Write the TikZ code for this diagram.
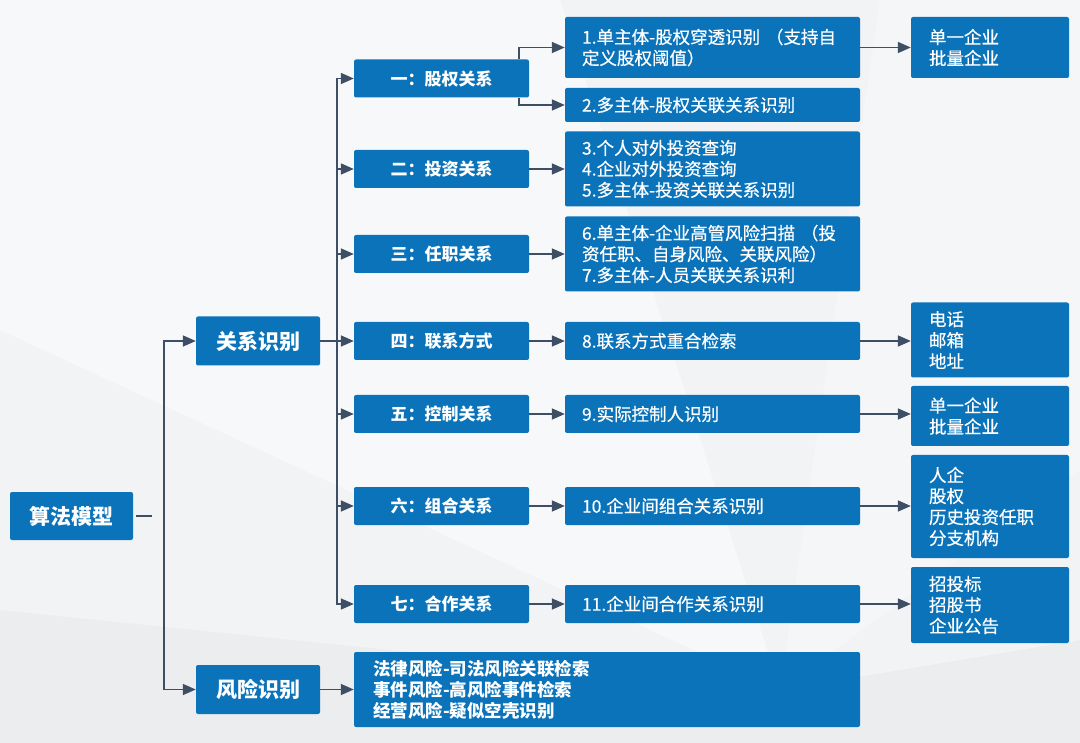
\documentclass[tikz,border=0pt]{standalone}
\usepackage{fontspec}
\setmainfont{Noto Sans CJK SC}
\newfontfamily\medfont{Noto Sans CJK SC}[FakeBold=0.5]
\usetikzlibrary{arrows.meta}

\definecolor{boxblue}{RGB}{11,115,186}
\definecolor{linkgray}{RGB}{62,78,101}
\definecolor{bggray}{RGB}{242,243,245}

\tikzset{
  bluebox/.style={fill=boxblue,text=white,rounded corners=2pt,inner sep=0pt},
  headbox/.style={bluebox,minimum width=124pt,minimum height=49pt,
    font=\fontsize{21}{24}\selectfont\bfseries},
  catbox/.style={bluebox,minimum width=175pt,minimum height=38pt,
    font=\fontsize{17}{20}\selectfont\bfseries},
  itembox/.style={bluebox,text width=261pt,inner xsep=17pt,align=left,
    font=\fontsize{17.5}{21}\selectfont\medfont},
  leafbox/.style={bluebox,text width=122pt,inner xsep=18pt,align=left,
    font=\fontsize{17.5}{21}\selectfont\medfont},
  plainlink/.style={draw=linkgray,line width=1.6pt},
  flow/.style={plainlink,-{Triangle[length=13pt,width=11pt]}}
}

\begin{document}
\begin{tikzpicture}[x=1pt,y=-1pt]
\useasboundingbox (0,0) rectangle (1080,743);
% Background
\fill[bggray] (0,0) rectangle (1080,743);
\fill[white,opacity=0.45] (0,0) -- (560,0) -- (780,690) -- (0,330) -- cycle;
\fill[white,opacity=0.3] (780,690) -- (1080,470) -- (1080,0) -- (880,0) -- cycle;
\fill[black,opacity=0.025] (0,610) -- (780,690) -- (1080,640) -- (1080,743) -- (0,743) -- cycle;

% Root and first level
\node[headbox,minimum width=123pt,minimum height=48pt] (algo) at (71.5,516) {算法模型};
\node[headbox] (relid) at (258,341) {关系识别};
\node[headbox] (riskid) at (258,689.5) {风险识别};
\coordinate (split) at (164,516);
\draw[plainlink] ([xshift=3pt]algo.east) -- ++(16,0);
\draw[flow] (split) |- (relid.west);
\draw[flow] (split) |- (riskid.west);

% Relation categories
\coordinate (hub) at (337,341);
\draw[plainlink] (relid.east) -- (hub);
\foreach \n/\y/\t in {cat1/78.5/一：股权关系, cat2/169/二：投资关系, cat3/254/三：任职关系,
    cat4/341/四：联系方式, cat5/414/五：控制关系, cat6/506/六：组合关系, cat7/604/七：合作关系} {
    \node[catbox] (\n) at (441.5,\y) {\t};
    \draw[flow] (hub) |- (\n.west);
}

% Items
\node[itembox,minimum height=61pt] (item1) at (712.5,47.5) {1.单主体-股权穿透识别 （支持自\\定义股权阈值）};
\node[itembox,minimum height=34pt] (item2) at (712.5,105) {2.多主体-股权关联关系识别};
\node[itembox,minimum height=75pt] (item3) at (712.5,169) {3.个人对外投资查询\\4.企业对外投资查询\\5.多主体-投资关联关系识别};
\node[itembox,minimum height=75pt] (item4) at (712.5,254) {6.单主体-企业高管风险扫描 （投\\资任职、自身风险、关联风险）\\7.多主体-人员关联关系识利};
\node[itembox,minimum height=38pt] (item5) at (712.5,341) {8.联系方式重合检索};
\node[itembox,minimum height=38pt] (item6) at (712.5,414) {9.实际控制人识别};
\node[itembox,minimum height=38pt] (item7) at (712.5,506) {10.企业间组合关系识别};
\node[itembox,minimum height=38pt] (item8) at (712.5,604) {11.企业间合作关系识别};

\draw[flow] ([xshift=-10pt]cat1.north east) |- (item1.west);
\draw[flow] ([xshift=-10pt]cat1.south east) |- (item2.west);
\foreach \a/\b in {cat2/item3, cat3/item4, cat4/item5, cat5/item6, cat6/item7, cat7/item8}
    \draw[flow] (\a.east) -- (\a.east -| \b.west);

% Leaves
\node[leafbox,minimum height=61pt] (leaf1) at (990,47.5) {单一企业\\批量企业};
\node[leafbox,minimum height=75pt] (leaf2) at (990,340) {电话\\邮箱\\地址};
\node[leafbox,minimum height=60pt] (leaf3) at (990,416) {单一企业\\批量企业};
\node[leafbox,minimum height=103pt] (leaf4) at (990,506.5) {人企\\股权\\历史投资任职\\分支机构};
\node[leafbox,minimum height=76pt] (leaf5) at (990,605) {招投标\\招股书\\企业公告};
\foreach \a/\b in {item1/leaf1, item5/leaf2, item6/leaf3, item7/leaf4, item8/leaf5}
    \draw[flow] (\a.east) -- (\a.east -| \b.west);

% Risk items
\node[bluebox,text width=468pt,inner xsep=19pt,align=left,minimum height=75pt,
    font=\fontsize{17.5}{21}\selectfont\bfseries] (riskitems) at (607,689.5)
    {法律风险-司法风险关联检索\\事件风险-高风险事件检索\\经营风险-疑似空壳识别};
\draw[flow] (riskid.east) -- (riskitems.west);
\end{tikzpicture}
\end{document}
